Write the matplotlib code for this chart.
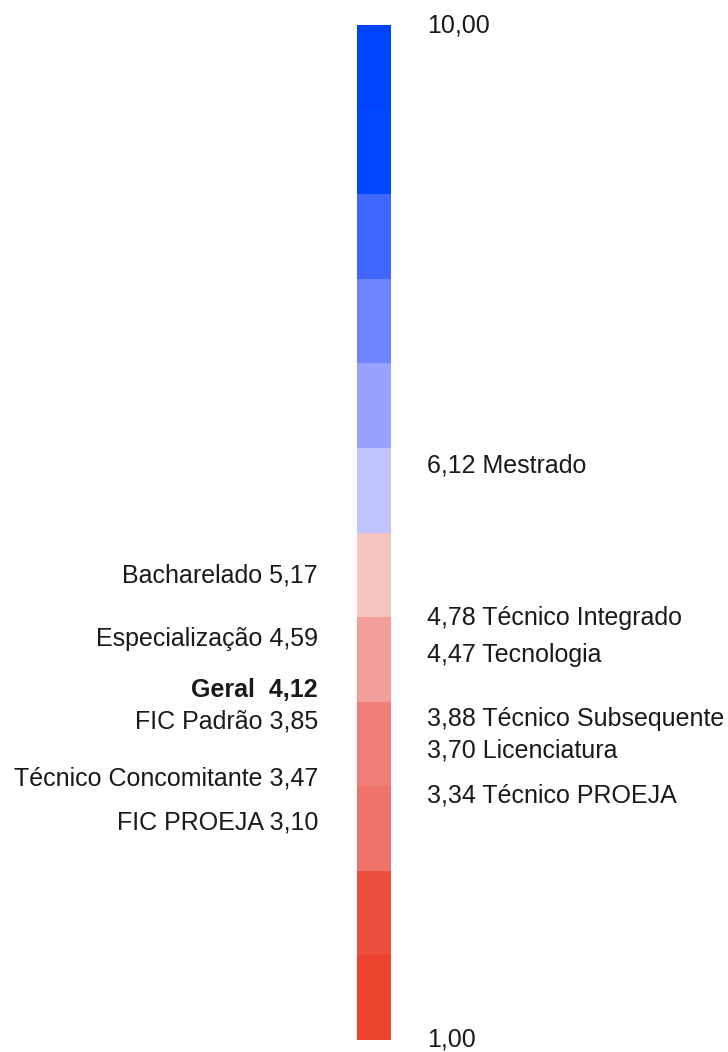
import matplotlib.pyplot as plt
from matplotlib.transforms import blended_transform_factory

plt.rcParams['font.family'] = ['Liberation Sans', 'DejaVu Sans']

# escala de 1 a 10 em 12 faixas
faixa_inicio = [1.00, 1.75, 2.50, 3.25, 4.00, 4.75, 5.50, 6.25, 7.00, 7.75, 8.50, 9.25]
faixa_altura = 0.75
faixa_cores = ['#EB432E', '#EC4E3C', '#EE736B', '#EF7E77', '#F29F9A', '#F5C5C2',
               '#BFC4FE', '#98A2FE', '#6E85FF', '#3F66FF', '#0048FF', '#0043FF']

# cursos à esquerda (nome, nota)
esq_nomes = ['Bacharelado', 'Especialização', 'Geral', 'FIC Padrão',
             'Técnico Concomitante', 'FIC PROEJA']
esq_notas = [5.17, 4.59, 4.12, 3.85, 3.47, 3.10]

# cursos à direita
dir_nomes = ['Mestrado', 'Técnico Integrado', 'Tecnologia', 'Técnico Subsequente',
             'Licenciatura', 'Técnico PROEJA']
dir_notas = [6.12, 4.78, 4.47, 3.88, 3.70, 3.34]

# deslocamento dos rótulos para não sobrepor (em unidades da escala)
esq_ajuste = [-0.05, -0.03, -0.02, -0.03, -0.15, -0.17]
dir_ajuste = [-0.03, -0.04, -0.06, -0.03, -0.13, -0.17]

fig = plt.figure(figsize=(7.28, 10.52), dpi=100)
ax = fig.add_axes([357 / 728, 12 / 1052, 34 / 728, 1015 / 1052])

ax.bar(0, faixa_altura, bottom=faixa_inicio, width=1, color=faixa_cores, align='center')
ax.set_xlim(-0.5, 0.5)
ax.set_ylim(1, 10)
ax.axis('off')

trans = blended_transform_factory(ax.transAxes, ax.transData)
cor_txt = '#1a1a1a'
fs = 18

for nome, nota, aj in zip(esq_nomes, esq_notas, esq_ajuste):
    txt = f'{nome} {nota:.2f}'.replace('.', ',')
    peso = 'normal'
    if nome == 'Geral':
        txt = f'{nome}  {nota:.2f}'.replace('.', ',')
        peso = 'bold'
    ax.text(-1.15, nota + aj, txt, transform=trans, ha='right', va='center',
            fontsize=fs, color=cor_txt, fontweight=peso)

for nome, nota, aj in zip(dir_nomes, dir_notas, dir_ajuste):
    txt = f'{nota:.2f} {nome}'.replace('.', ',')
    ax.text(2.06, nota + aj, txt, transform=trans, ha='left', va='center',
            fontsize=fs, color=cor_txt)

# extremos da escala
ax.text(2.06, 10, '10,00', transform=trans, ha='left', va='center', fontsize=fs, color=cor_txt)
ax.text(2.06, 1, '1,00', transform=trans, ha='left', va='center', fontsize=fs, color=cor_txt)

plt.savefig('out.png', dpi=100)
plt.close()
